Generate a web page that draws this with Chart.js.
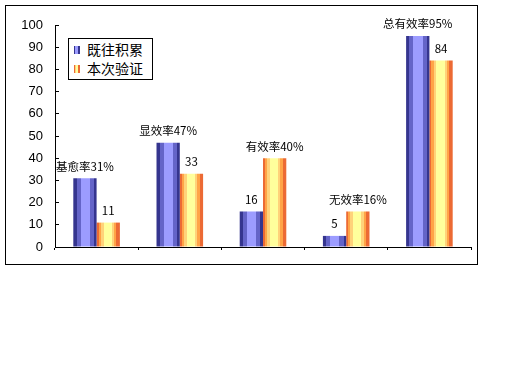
<!DOCTYPE html>
<html>
<head>
<meta charset="utf-8">
<script src="https://cdn.jsdelivr.net/npm/chart.js@4/dist/chart.umd.min.js"></script>
<style>
  html, body { margin: 0; padding: 0; background: #fff; }
  #frame { position: absolute; left: 5px; top: 5px; width: 473px; height: 260px; border: 1px solid #000; box-sizing: border-box; }
  #wrap { position: absolute; left: 0; top: 0; width: 471px; height: 258px; }
  #legend { position: absolute; left: 62px; top: 32px; width: 85px; height: 42px; border: 1px solid #000; box-sizing: border-box; background: #fff;
            font: 14px "Noto Sans CJK SC", sans-serif; color: #000; }
  #legend div { position: absolute; left: 18px; height: 19px; line-height: 19px; white-space: nowrap; }
  #legend span { position: absolute; left: -13px; top: 6px; width: 6px; height: 8px; }
</style>
</head>
<body>
<div id="frame">
  <div id="wrap"><canvas id="c"></canvas></div>
  <div id="legend"></div>
</div>
<script>
// data
const categories = ['基愈率', '显效率', '有效率', '无效率', '总有效率'];
const seriesNames = ['既往积累', '本次验证'];
const cumulative = [31, 47, 16, 5, 95];
const current = [11, 33, 40, 16, 84];
const cumulativeLabels = ['基愈率31%', '显效率47%', '16', '5', '总有效率95%'];
const currentLabels = ['11', '33', '有效率40%', '无效率16%', '84'];
const yTicks = [0, 10, 20, 30, 40, 50, 60, 70, 80, 90, 100];

// striped fills, like the old office 3d-ish bars
const stripes = [
  [[0, '#35358f'], [0.14, '#35358f'], [0.14, '#6464c8'], [0.31, '#6464c8'], [0.31, '#9c9cff'], [0.71, '#9c9cff'],
   [0.71, '#6464c8'], [0.89, '#6464c8'], [0.89, '#35358f'], [1, '#35358f']],
  [[0, '#ec6a34'], [0.09, '#ec6a34'], [0.09, '#ffa447'], [0.18, '#ffa447'], [0.18, '#ffd27a'], [0.3, '#ffd27a'],
   [0.3, '#ffff9c'], [0.65, '#ffff9c'], [0.65, '#ffd27a'], [0.75, '#ffd27a'], [0.75, '#ffa447'], [0.85, '#ffa447'],
   [0.85, '#ec6a34'], [1, '#ec6a34']]
];
const swatchCss = [
  'linear-gradient(90deg,#35358f 0 25%,#9c9cff 25% 75%,#35358f 75%)',
  'linear-gradient(90deg,#ec6a34 0 20%,#ffd27a 20% 40%,#ffff9c 40% 70%,#ec6a34 70%)'
];

const legend = document.getElementById('legend');
seriesNames.forEach((n, i) => {
  const d = document.createElement('div');
  d.style.top = (i * 19 + 1) + 'px';
  d.innerHTML = '<span style="background:' + swatchCss[i] + '"></span>' + n;
  legend.appendChild(d);
});

const stripePlugin = {
  id: 'stripes',
  beforeDatasetsDraw(chart) {
    const ctx = chart.ctx;
    chart.data.datasets.forEach((ds, di) => {
      chart.getDatasetMeta(di).data.forEach(el => {
        const x0 = el.x - el.width / 2, x1 = el.x + el.width / 2;
        const g = ctx.createLinearGradient(x0, 0, x1, 0);
        stripes[di].forEach(s => g.addColorStop(s[0], s[1]));
        el.options = Object.assign({}, el.options, { backgroundColor: g });
      });
    });
  }
};

const barLabels = [cumulativeLabels, currentLabels];
const labelPlugin = {
  id: 'barLabels',
  afterDatasetsDraw(chart) {
    const ctx = chart.ctx;
    ctx.save();
    ctx.font = '11.5px "Noto Sans CJK SC", sans-serif';
    ctx.fillStyle = '#000';
    ctx.textAlign = 'center';
    ctx.textBaseline = 'middle';
    chart.data.datasets.forEach((ds, di) => {
      chart.getDatasetMeta(di).data.forEach((el, i) => {
        ctx.fillText(barLabels[di][i], el.x, el.y - 12);
      });
    });
    ctx.restore();
  }
};

new Chart(document.getElementById('c'), {
  type: 'bar',
  data: {
    labels: categories,
    datasets: [
      { label: seriesNames[0], data: cumulative, backgroundColor: '#9c9cff', barPercentage: 1, categoryPercentage: 0.56 },
      { label: seriesNames[1], data: current, backgroundColor: '#ffff9c', barPercentage: 1, categoryPercentage: 0.56 }
    ]
  },
  options: {
    responsive: true,
    maintainAspectRatio: false,
    animation: false,
    layout: { padding: { top: 19, right: 6, left: 0, bottom: 0 } },
    plugins: { legend: { display: false }, tooltip: { enabled: false } },
    scales: {
      x: {
        grid: { drawOnChartArea: false, tickLength: 3, color: '#000' },
        border: { color: '#000' },
        ticks: { display: false },
        afterFit: s => { s.height = 17; }
      },
      y: {
        min: 0, max: 100,
        afterBuildTicks: s => { s.ticks = yTicks.map(v => ({ value: v })); },
        grid: { drawOnChartArea: false, tickLength: -4, color: '#000' },
        border: { color: '#000' },
        ticks: { padding: 16, color: '#000', font: { family: '"Liberation Sans", Arial', size: 13 } },
        afterFit: s => { s.width = 49; s.paddingTop = 0; s.paddingBottom = 0; }
      }
    }
  },
  plugins: [stripePlugin, labelPlugin]
});
</script>
</body>
</html>
